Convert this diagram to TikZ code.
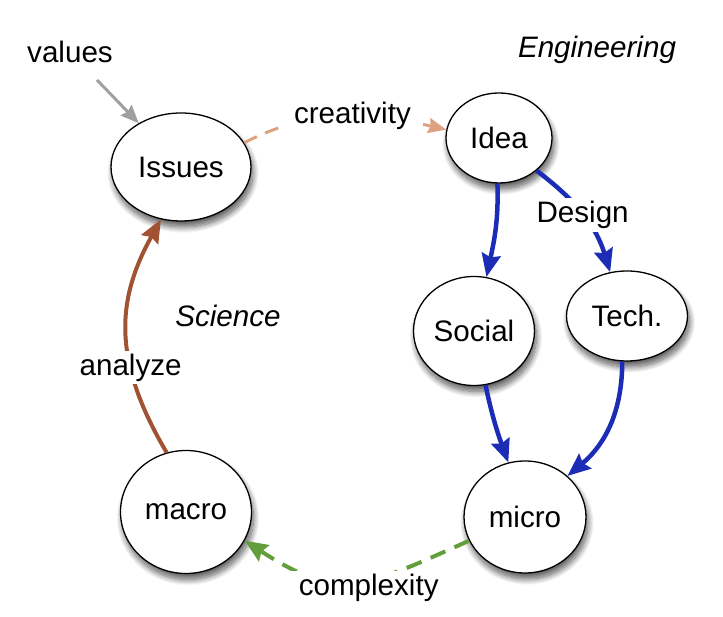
\documentclass[tikz,border=0pt]{standalone}
\usepackage{fontspec}
\setmainfont{Liberation Sans}
\usetikzlibrary{shapes.geometric,arrows.meta,shadows.blur}
\definecolor{eblue}{RGB}{28,44,182}
\definecolor{ebrown}{RGB}{160,82,50}
\definecolor{egreen}{RGB}{98,158,60}
\definecolor{esalmon}{RGB}{222,162,128}
\definecolor{egray}{RGB}{160,160,160}
\begin{document}
\begin{tikzpicture}[x=1pt,y=1pt,
  font=\fontsize{29.6}{34}\selectfont,
  state/.style={ellipse, draw=black, line width=1.3pt, fill=white, inner sep=0pt,
    blur shadow={shadow xshift=2pt,shadow yshift=-6pt,shadow blur radius=6pt,shadow blur steps=12,shadow opacity=65}},
  tip/.style={-{Stealth[length=23pt,width=19pt,inset=3pt]}},
  smalltip/.style={-{Stealth[length=18pt,width=15pt,inset=2pt]}},
  flow/.style={tip, draw=eblue, line width=4.5pt},
  lbl/.style={fill=white, inner xsep=9pt, inner ysep=3pt},
  plain/.style={anchor=base},
  emph/.style={anchor=base, font=\fontsize{29.6}{34}\selectfont\itshape}]
\useasboundingbox (0,0) rectangle (723,617);

% states
\node[state, minimum width=140pt, minimum height=108pt] (Issues) at (181,450) {Issues};
\node[state, minimum width=106pt, minimum height=90pt]  (Idea)   at (499,479) {Idea};
\node[state, minimum width=121pt, minimum height=109pt] (Social) at (474,286) {Social};
\node[state, minimum width=121pt, minimum height=90pt]  (Tech)   at (627,301) {Tech.};
\node[state, minimum width=131pt, minimum height=123pt] (macro)  at (186,105) {macro};
\node[state, minimum width=122pt, minimum height=112pt] (micro)  at (525,100) {micro};

% free texts
\node[plain] (values) at (70,554) {values};
\node[emph] (engineering) at (597,559) {Engineering};
\node[emph] (science) at (228,290) {Science};

% connectors
\coordinate (vstart) at (97,537);
\draw[smalltip, draw=egray, line width=3pt] (vstart) -- (Issues);

\draw[smalltip, draw=esalmon, line width=3pt, dash pattern=on 14pt off 9pt]
  (Issues.21) to[out=27,in=167] node[lbl, pos=.55] (creativity) {creativity} (Idea.171);

\draw[flow] (Idea.-92) to[out=-88,in=78] (Social.77);
\draw[flow] (Idea.-41) to[out=-37,in=107] node[lbl, pos=.5] (design) {Design} (Tech.111);
\draw[flow] (Social.-78) to[out=-78,in=110] (micro.107);
\draw[flow] (Tech.-96) to[out=-90,in=40] (micro.44);

\draw[tip, draw=egreen, line width=4pt, dash pattern=on 16pt off 10pt]
  (micro.203) to[out=204,in=-33,looseness=1.3] node[lbl, pos=.5, xshift=15pt, yshift=-7pt] (complexity) {complexity} (macro.-26);

\draw[tip, draw=ebrown, line width=4pt]
  (macro.108) .. controls (110,260) and (118,320) .. node[lbl, pos=.33] (analyze) {analyze} (Issues.249);
\end{tikzpicture}
\end{document}
